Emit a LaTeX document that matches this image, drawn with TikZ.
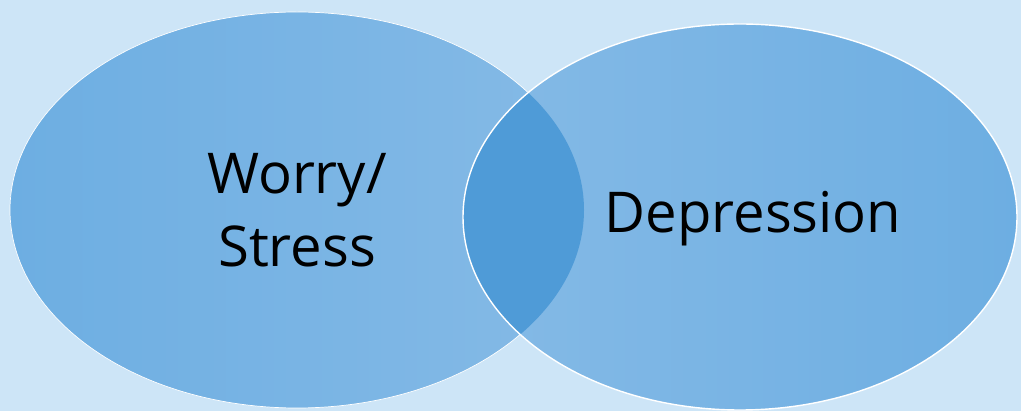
\documentclass[tikz,border=0pt]{standalone}
\usepackage{fontspec}
\setmainfont{Open Sans}
\usetikzlibrary{positioning}
\definecolor{bgblue}{HTML}{CDE5F7}
\definecolor{bgwhite}{HTML}{F8FCFF}
\definecolor{ellDark}{HTML}{6DAEE2}
\definecolor{ellLight}{HTML}{85BAE6}
\definecolor{ovlp}{HTML}{4F9BD7}

\begin{document}
\begin{tikzpicture}[
    x=0.3mm, y=0.3mm,
    word/.style={font=\fontsize{48}{63}\selectfont, text=black, align=center, inner sep=0pt},
    rim/.style={draw=white, line width=1.2pt}
]
% Fondo (slide)
\useasboundingbox (0,0) rectangle (1021,411);
\shade[left color=bgblue, middle color=bgwhite, right color=bgblue] (0,0) rectangle (1021,411);
% Centros de las elipses
\coordinate (lc) at (297,201);
\coordinate (rc) at (740,194);
% Elipses
\shade[left color=ellDark, right color=ellLight, draw=white, line width=0.6pt] (lc) ellipse [x radius=287, y radius=198];
\shade[left color=ellLight, right color=ellDark] (rc) ellipse [x radius=277, y radius=193];
% Zona comun
\begin{scope}
  \clip (lc) ellipse [x radius=287, y radius=198];
  \fill[ovlp] (rc) ellipse [x radius=277, y radius=193];
\end{scope}
\draw[rim] (rc) ellipse [x radius=277, y radius=193];
% Textos (base = ultima linea)
\node[word, anchor=base] (worry) at (297,144) {Worry/\\Stress};
\node[word, anchor=base] (depr) at (753,178) {Depression};
\end{tikzpicture}
\end{document}
